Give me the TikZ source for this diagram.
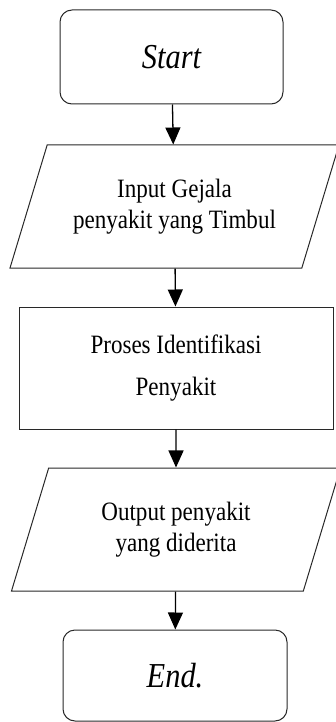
\documentclass[tikz,border=0pt]{standalone}
\usepackage{fontspec}
\setmainfont[FakeStretch=0.87]{Liberation Serif}
\usepackage{tikz}
\usetikzlibrary{positioning, arrows.meta, shapes.geometric}
\definecolor{edge}{RGB}{40, 40, 40}

\begin{document}
\begin{tikzpicture}[
    x=1pt, y=-1pt,
    terminal/.style={draw=edge, line width=1pt, rounded corners=12pt, minimum width=223pt, minimum height=94pt, align=center, font=\itshape\fontsize{35}{35}\selectfont},
    io/.style={draw=edge, line width=1pt, trapezium, trapezium left angle=56, trapezium right angle=124, trapezium stretches body, minimum width=329pt, minimum height=123pt, inner sep=0pt, align=center, font=\fontsize{26.5}{31}\selectfont},
    process/.style={draw=edge, line width=1pt, minimum width=314pt, minimum height=122pt, align=center, font=\fontsize{26.5}{42}\selectfont},
    arrow/.style={-{Triangle[length=17pt, width=15pt]}, line width=1.3pt}
]
    \useasboundingbox (0,0) rectangle (336,722);

    \node[terminal] (start) at (171.5,57) {Start};
    \node[io] (gejala) at (174.5,206.5) {Input Gejala\\penyakit yang Timbul};
    \node[process] (proses) at (176,368) {Proses Identifikasi\\Penyakit};
    \node[io] (output) at (176,529.5) {Output penyakit\\yang diderita};
    \node[terminal, minimum width=224pt, minimum height=91pt] (end) at (175,675.5) {End.};

    \draw[arrow] (start) -- (gejala);
    \draw[arrow] (gejala) -- (proses);
    \draw[arrow] (proses) -- (output);
    \draw[arrow] (output) -- (end);
\end{tikzpicture}
\end{document}
